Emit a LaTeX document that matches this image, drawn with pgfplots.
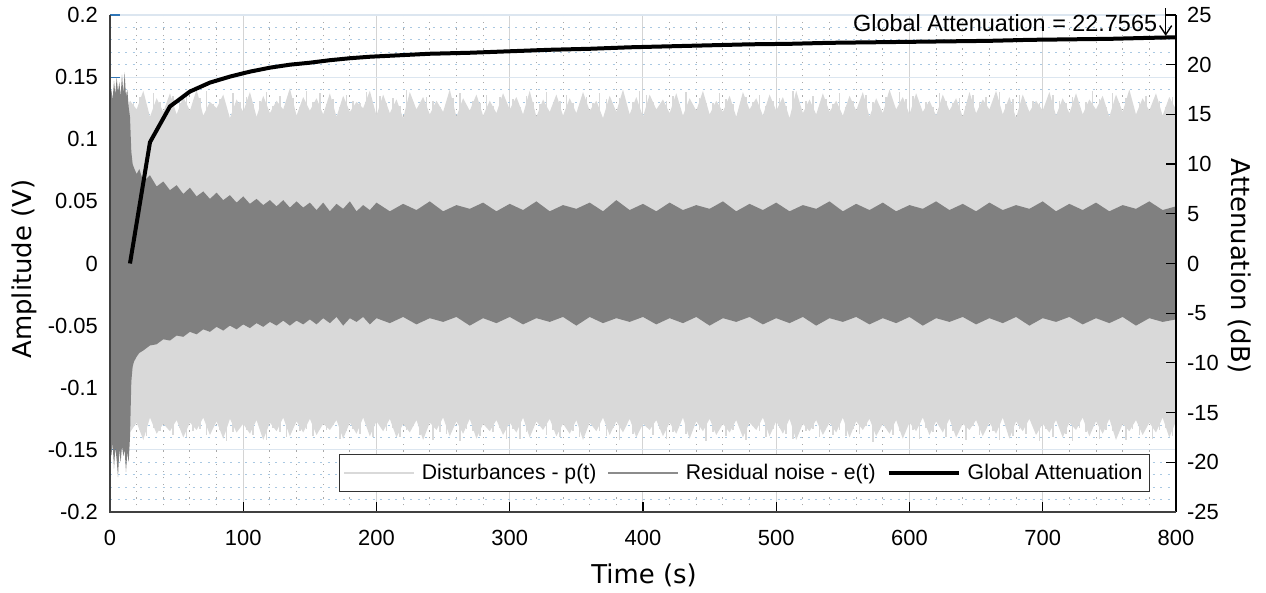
\documentclass[border=0pt]{standalone}
\usepackage{fontspec}
\setmainfont{Liberation Sans}
\newfontfamily\labelfont{DejaVu Sans}
\usepackage{pgfplots}
\usepackage{pgfplotstable}
\pgfplotsset{compat=1.18}
\usepgfplotslibrary{fillbetween}
\usetikzlibrary{arrows.meta}
\definecolor{dist}{HTML}{D9D9D9}
\definecolor{resid}{HTML}{808080}
\definecolor{gridblue}{HTML}{DCE6F0}
\definecolor{griddotblue}{HTML}{A9C8E2}
\definecolor{gridgray}{HTML}{D4D4D4}
\definecolor{griddotgray}{HTML}{A8A8A8}
\definecolor{tickblue}{HTML}{2F76B8}

\pgfplotstableread{
t top bot
0 0.121 -0.127
5 0.136 -0.139
10 0.119 -0.125
15 0.131 -0.136
20 0.124 -0.128
25 0.139 -0.142
30 0.118 -0.124
35 0.133 -0.137
40 0.122 -0.129
45 0.137 -0.135
50 0.120 -0.126
55 0.134 -0.140
60 0.123 -0.128
65 0.140 -0.134
70 0.119 -0.124
75 0.130 -0.138
80 0.125 -0.127
85 0.136 -0.141
90 0.117 -0.125
95 0.132 -0.136
100 0.122 -0.129
105 0.138 -0.137
110 0.118 -0.126
115 0.135 -0.142
120 0.121 -0.128
125 0.131 -0.135
130 0.124 -0.124
135 0.141 -0.139
140 0.119 -0.127
145 0.134 -0.136
150 0.123 -0.125
155 0.133 -0.138
160 0.120 -0.129
165 0.137 -0.134
170 0.118 -0.126
175 0.135 -0.141
180 0.122 -0.128
185 0.130 -0.137
190 0.125 -0.124
195 0.139 -0.139
200 0.119 -0.127
205 0.136 -0.135
210 0.121 -0.125
215 0.132 -0.140
220 0.117 -0.129
225 0.138 -0.136
230 0.124 -0.126
235 0.134 -0.142
240 0.120 -0.128
245 0.131 -0.134
250 0.122 -0.124
255 0.140 -0.139
260 0.118 -0.127
265 0.133 -0.137
270 0.123 -0.125
275 0.136 -0.141
280 0.119 -0.129
285 0.131 -0.135
290 0.121 -0.126
295 0.137 -0.138
300 0.124 -0.128
305 0.134 -0.136
310 0.120 -0.124
315 0.139 -0.140
320 0.118 -0.127
325 0.132 -0.134
330 0.122 -0.125
335 0.136 -0.139
340 0.119 -0.129
345 0.133 -0.137
350 0.121 -0.126
355 0.138 -0.142
360 0.123 -0.128
365 0.131 -0.135
370 0.117 -0.124
375 0.135 -0.138
380 0.122 -0.127
385 0.140 -0.136
390 0.120 -0.125
395 0.134 -0.140
400 0.118 -0.129
405 0.136 -0.134
410 0.124 -0.126
415 0.132 -0.139
420 0.121 -0.128
425 0.137 -0.137
430 0.119 -0.124
435 0.133 -0.141
440 0.123 -0.127
445 0.139 -0.135
450 0.120 -0.125
455 0.131 -0.138
460 0.122 -0.129
465 0.135 -0.136
470 0.118 -0.126
475 0.138 -0.140
480 0.124 -0.128
485 0.133 -0.134
490 0.119 -0.124
495 0.136 -0.139
500 0.123 -0.127
505 0.134 -0.137
510 0.117 -0.125
515 0.139 -0.142
520 0.121 -0.129
525 0.132 -0.135
530 0.120 -0.126
535 0.137 -0.138
540 0.122 -0.128
545 0.131 -0.136
550 0.119 -0.124
555 0.135 -0.140
560 0.123 -0.127
565 0.138 -0.134
570 0.118 -0.125
575 0.133 -0.139
580 0.121 -0.129
585 0.140 -0.137
590 0.124 -0.126
595 0.134 -0.141
600 0.120 -0.128
605 0.137 -0.135
610 0.122 -0.124
615 0.131 -0.138
620 0.119 -0.127
625 0.136 -0.136
630 0.123 -0.125
635 0.133 -0.140
640 0.118 -0.129
645 0.138 -0.134
650 0.121 -0.126
655 0.132 -0.139
660 0.124 -0.128
665 0.139 -0.137
670 0.120 -0.124
675 0.134 -0.141
680 0.117 -0.127
685 0.136 -0.135
690 0.122 -0.125
695 0.131 -0.138
700 0.123 -0.129
705 0.138 -0.136
710 0.119 -0.126
715 0.133 -0.140
720 0.121 -0.128
725 0.137 -0.134
730 0.120 -0.124
735 0.132 -0.139
740 0.124 -0.127
745 0.135 -0.137
750 0.118 -0.125
755 0.136 -0.142
760 0.122 -0.129
765 0.140 -0.135
770 0.120 -0.126
775 0.133 -0.138
780 0.123 -0.128
785 0.137 -0.136
790 0.119 -0.124
795 0.134 -0.140
800 0.124 -0.127
}\disttab

\pgfplotstableread{
t top bot
2.5 0.131 -0.141
7.5 0.127 -0.133
12.5 0.138 -0.137
17.5 0.129 -0.131
22.5 0.134 -0.134
27.5 0.126 -0.139
32.5 0.137 -0.132
37.5 0.130 -0.135
42.5 0.128 -0.130
47.5 0.135 -0.138
52.5 0.129 -0.132
57.5 0.136 -0.140
62.5 0.127 -0.135
67.5 0.133 -0.133
72.5 0.139 -0.138
77.5 0.128 -0.131
82.5 0.132 -0.134
87.5 0.126 -0.143
92.5 0.137 -0.136
97.5 0.130 -0.130
102.5 0.134 -0.134
107.5 0.128 -0.138
112.5 0.131 -0.131
117.5 0.138 -0.142
122.5 0.127 -0.132
127.5 0.135 -0.136
132.5 0.129 -0.140
137.5 0.133 -0.130
142.5 0.126 -0.135
147.5 0.139 -0.133
152.5 0.130 -0.139
157.5 0.137 -0.132
162.5 0.128 -0.134
167.5 0.132 -0.130
172.5 0.126 -0.141
177.5 0.136 -0.135
182.5 0.131 -0.133
187.5 0.129 -0.137
192.5 0.138 -0.131
197.5 0.127 -0.140
202.5 0.135 -0.130
207.5 0.129 -0.135
212.5 0.133 -0.132
217.5 0.127 -0.140
222.5 0.140 -0.134
227.5 0.130 -0.131
232.5 0.128 -0.138
237.5 0.134 -0.133
242.5 0.131 -0.142
247.5 0.126 -0.136
252.5 0.128 -0.137
257.5 0.133 -0.131
262.5 0.137 -0.143
267.5 0.126 -0.133
272.5 0.131 -0.135
277.5 0.129 -0.139
282.5 0.136 -0.130
287.5 0.127 -0.136
292.5 0.134 -0.132
297.5 0.130 -0.141
302.5 0.132 -0.133
307.5 0.126 -0.141
312.5 0.135 -0.136
317.5 0.130 -0.132
322.5 0.128 -0.130
327.5 0.138 -0.138
332.5 0.127 -0.134
337.5 0.131 -0.140
342.5 0.136 -0.131
347.5 0.129 -0.135
352.5 0.127 -0.140
357.5 0.134 -0.134
362.5 0.129 -0.131
367.5 0.137 -0.135
372.5 0.132 -0.139
377.5 0.126 -0.132
382.5 0.133 -0.142
387.5 0.128 -0.130
392.5 0.130 -0.137
397.5 0.139 -0.133
402.5 0.136 -0.131
407.5 0.130 -0.138
412.5 0.127 -0.133
417.5 0.131 -0.141
422.5 0.135 -0.136
427.5 0.128 -0.130
432.5 0.138 -0.137
437.5 0.126 -0.132
442.5 0.133 -0.134
447.5 0.129 -0.143
452.5 0.129 -0.136
457.5 0.137 -0.130
462.5 0.132 -0.139
467.5 0.128 -0.134
472.5 0.126 -0.132
477.5 0.134 -0.142
482.5 0.130 -0.131
487.5 0.136 -0.135
492.5 0.127 -0.140
497.5 0.131 -0.133
502.5 0.133 -0.132
507.5 0.127 -0.137
512.5 0.139 -0.141
517.5 0.129 -0.130
522.5 0.131 -0.135
527.5 0.135 -0.133
532.5 0.126 -0.140
537.5 0.132 -0.131
542.5 0.128 -0.138
547.5 0.137 -0.134
552.5 0.126 -0.139
557.5 0.131 -0.133
562.5 0.128 -0.137
567.5 0.136 -0.131
572.5 0.130 -0.144
577.5 0.127 -0.134
582.5 0.134 -0.132
587.5 0.129 -0.138
592.5 0.138 -0.135
597.5 0.132 -0.130
602.5 0.135 -0.134
607.5 0.128 -0.141
612.5 0.130 -0.132
617.5 0.126 -0.136
622.5 0.137 -0.130
627.5 0.131 -0.140
632.5 0.129 -0.135
637.5 0.133 -0.133
642.5 0.127 -0.142
647.5 0.136 -0.131
652.5 0.130 -0.138
657.5 0.134 -0.132
662.5 0.127 -0.135
667.5 0.138 -0.142
672.5 0.128 -0.131
677.5 0.132 -0.139
682.5 0.136 -0.133
687.5 0.126 -0.137
692.5 0.131 -0.130
697.5 0.129 -0.143
702.5 0.128 -0.133
707.5 0.136 -0.140
712.5 0.131 -0.131
717.5 0.129 -0.137
722.5 0.134 -0.143
727.5 0.127 -0.132
732.5 0.130 -0.136
737.5 0.139 -0.130
742.5 0.132 -0.141
747.5 0.126 -0.134
752.5 0.137 -0.135
757.5 0.129 -0.131
762.5 0.133 -0.142
767.5 0.127 -0.133
772.5 0.130 -0.138
777.5 0.135 -0.130
782.5 0.128 -0.141
787.5 0.131 -0.134
792.5 0.126 -0.132
797.5 0.134 -0.139
}\spiketab

\pgfplotstableread{
t top bot
0 0.128 -0.140
1 0.140 -0.155
2 0.132 -0.145
3 0.147 -0.165
4 0.136 -0.148
5 0.150 -0.158
6 0.138 -0.172
7 0.146 -0.150
8 0.135 -0.160
9 0.152 -0.147
10 0.137 -0.155
11 0.154 -0.150
12 0.134 -0.168
13 0.140 -0.152
14 0.126 -0.160
15 0.118 -0.140
16 0.090 -0.095
17 0.080 -0.083
18 0.077 -0.079
20 0.072 -0.075
22 0.076 -0.072
25 0.066 -0.070
30 0.071 -0.066
35 0.062 -0.065
40 0.066 -0.061
45 0.059 -0.062
50 0.063 -0.058
55 0.056 -0.059
60 0.061 -0.055
65 0.054 -0.057
70 0.058 -0.053
75 0.052 -0.055
80 0.057 -0.051
85 0.051 -0.054
90 0.055 -0.050
95 0.049 -0.053
100 0.054 -0.049
105 0.048 -0.052
110 0.052 -0.048
115 0.047 -0.051
120 0.051 -0.047
125 0.046 -0.050
130 0.051 -0.046
135 0.045 -0.050
140 0.050 -0.046
145 0.045 -0.049
150 0.049 -0.045
155 0.043 -0.049
160 0.049 -0.044
165 0.042 -0.048
170 0.048 -0.043
175 0.044 -0.050
180 0.050 -0.044
185 0.042 -0.047
190 0.047 -0.043
195 0.043 -0.049
200 0.049 -0.044
210 0.042 -0.048
220 0.048 -0.043
230 0.043 -0.049
240 0.050 -0.044
250 0.042 -0.047
260 0.047 -0.043
270 0.044 -0.050
280 0.049 -0.044
290 0.042 -0.048
300 0.048 -0.043
310 0.043 -0.049
320 0.050 -0.044
330 0.042 -0.047
340 0.047 -0.043
350 0.044 -0.050
360 0.049 -0.043
370 0.042 -0.048
380 0.051 -0.044
390 0.043 -0.047
400 0.048 -0.043
410 0.042 -0.049
420 0.049 -0.044
430 0.043 -0.048
440 0.047 -0.043
450 0.044 -0.050
460 0.050 -0.044
470 0.042 -0.047
480 0.048 -0.043
490 0.043 -0.049
500 0.049 -0.044
510 0.042 -0.048
520 0.047 -0.043
530 0.044 -0.050
540 0.050 -0.044
550 0.042 -0.047
560 0.048 -0.043
570 0.043 -0.049
580 0.049 -0.044
590 0.042 -0.048
600 0.047 -0.043
610 0.044 -0.050
620 0.050 -0.044
630 0.043 -0.047
640 0.048 -0.043
650 0.042 -0.049
660 0.049 -0.044
670 0.043 -0.048
680 0.047 -0.043
690 0.044 -0.050
700 0.050 -0.044
710 0.042 -0.047
720 0.048 -0.043
730 0.043 -0.049
740 0.049 -0.044
750 0.042 -0.048
760 0.047 -0.043
770 0.044 -0.050
780 0.050 -0.044
790 0.043 -0.047
800 0.046 -0.045
}\restab

\pgfplotstableread{
t att
15 0
30 12.2
45 15.8
60 17.3
75 18.2
90 18.8
105 19.3
120 19.7
135 20.0
150 20.2
165 20.45
180 20.65
195 20.8
210 20.9
240 21.1
270 21.2
300 21.35
330 21.5
360 21.6
390 21.75
420 21.85
450 21.95
480 22.05
510 22.1
540 22.2
570 22.25
600 22.3
630 22.35
660 22.4
690 22.5
720 22.55
750 22.6
780 22.7
800 22.7565
}\atttab

\begin{document}
\begin{tikzpicture}
\path (0,0) rectangle (1266bp,593bp);
\begin{axis}[
  set layers,
  at={(110bp,81bp)}, anchor=south west,
  width=1066bp, height=497bp, scale only axis,
  xmin=0, xmax=800, ymin=-0.2, ymax=0.2,
  axis x line*=bottom, axis y line*=left,
  axis line style={color=black!75, line width=1.2bp},
  xtick={0,100,200,300,400,500,600,700,800},
  xticklabels={0,100,200,300,400,500,600,700,800},
  ytick={-0.2,-0.15,-0.1,-0.05,0,0.05,0.1,0.15,0.2},
  yticklabels={-0.2,-0.15,-0.1,-0.05,0,0.05,0.1,0.15,0.2},
  minor x tick num=4, minor y tick num=4,
  grid=both,
  major x grid style={gridgray, line width=1bp},
  major y grid style={gridblue, line width=1.2bp},
  minor x grid style={griddotgray, line width=0.9bp, dash pattern=on 1.2bp off 5.5bp},
  minor y grid style={griddotblue, line width=0.9bp, dash pattern=on 2bp off 5.5bp},
  major tick length=10bp, minor tick length=0pt,
  xtick style={black, line width=1.2bp},
  ytick style={tickblue, line width=1.2bp},
  /pgf/number format/assume math mode=true,
  tick label style={font=\fontsize{22}{26}\selectfont},
  yticklabel style={anchor=east, inner sep=0pt, xshift=-12bp},
  xticklabel style={anchor=north, inner sep=0pt, yshift=-18bp},
  label style={font=\labelfont\fontsize{26}{30}\selectfont},
  xlabel={Time (s)},
  xlabel style={at={(axis description cs:0.501,-0.1268)}, anchor=center},
  ylabel={Amplitude (V)},
  ylabel style={at={(axis description cs:-0.0807,0.489)}, anchor=center},
]
\addplot[ycomb, dist, line width=1.6bp, mark=none, on layer=pre main] table[x=t, y=top] {\spiketab};
\addplot[ycomb, dist, line width=1.6bp, mark=none, on layer=pre main] table[x=t, y=bot] {\spiketab};
\addplot[draw=none, name path=dtop] table[x=t, y=top] {\disttab};
\addplot[draw=none, name path=dbot] table[x=t, y=bot] {\disttab};
\addplot[dist] fill between[of=dtop and dbot];
\addplot[draw=none, name path=rtop] table[x=t, y=top] {\restab};
\addplot[draw=none, name path=rbot] table[x=t, y=bot] {\restab};
\addplot[resid] fill between[of=rtop and rbot];
\end{axis}
\begin{axis}[
  at={(110bp,81bp)}, anchor=south west,
  width=1066bp, height=497bp, scale only axis,
  xmin=0, xmax=800, ymin=-25, ymax=25,
  axis x line=none, axis y line*=right,
  axis line style={black, line width=1.2bp},
  ytick={-25,-20,-15,-10,-5,0,5,10,15,20,25},
  yticklabels={-25,-20,-15,-10,-5,0,5,10,15,20,25},
  major tick length=10bp,
  ytick style={black, line width=1.2bp},
  tick label style={font=\fontsize{22}{26}\selectfont},
  yticklabel style={anchor=west, inner sep=0pt, xshift=11bp},
  label style={font=\labelfont\fontsize{26}{30}\selectfont},
  ylabel={Attenuation (dB)},
  ylabel style={at={(axis description cs:1.060,0.495)}, anchor=center, rotate=180},
  clip=false,
  legend columns=3,
  legend image code/.code={\draw[#1] (0bp,0bp) -- (70bp,0bp);},
  legend style={at={(axis description cs:0.9756,0.0402)}, anchor=south east,
    draw=black!80, line width=1.2bp, fill=white,
    font=\fontsize{21.3}{24}\selectfont, inner xsep=4bp, inner ysep=7bp,
    nodes={inner sep=3bp},
    /tikz/every odd column/.append style={column sep=4bp},
    /tikz/every even column/.append style={column sep=8bp}},
]
\addlegendimage{color=dist, line width=1.5bp}
\addlegendentry{Disturbances - p(t)}
\addlegendimage{color=black!45, line width=1.5bp}
\addlegendentry{Residual noise - e(t)}
\addplot[black, line width=4bp] table[x=t, y=att] {\atttab};
\addlegendentry{Global Attenuation}
\draw[black!75, line width=1.2bp] (rel axis cs:0,1) -- (rel axis cs:0,0) -- (rel axis cs:1,0);
\draw[-{Straight Barb[length=9bp,width=12bp]}, line width=1.4bp] (axis cs:792.3,25.7) -- (axis cs:792.3,22.9);
\node[anchor=east, inner sep=0pt, font=\fontsize{23.5}{27}\selectfont] at (axis cs:786,24.16) {Global Attenuation = 22.7565};
\end{axis}
\end{tikzpicture}
\end{document}
